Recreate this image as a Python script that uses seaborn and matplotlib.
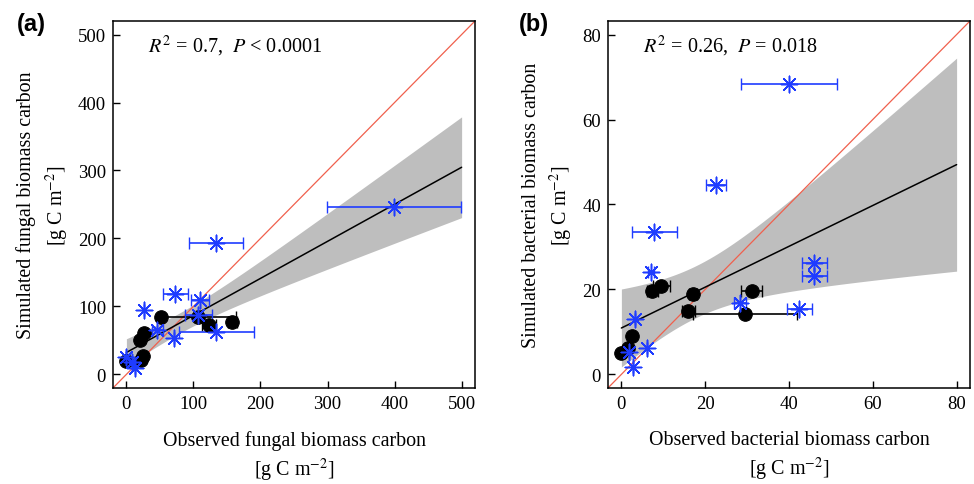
import numpy as np
import matplotlib
matplotlib.use("Agg")
import matplotlib.pyplot as plt
import seaborn as sns

# (a) fungal biomass carbon, g C m-2 (observed vs simulated)
fungal_obs_black = [0, 22, 25, 20, 27, 52, 107, 123, 158]
fungal_sim_black = [19, 21, 27, 50, 61, 84, 85, 72, 77]
fungal_err_black = [0, 0, 0, 0, 0, 0, 56, 10, 7]

fungal_obs_blue = [0, 8, 13, 27, 46, 71, 73, 110, 107, 134, 134, 399]
fungal_sim_blue = [26, 18, 9, 94, 65, 53, 119, 110, 87, 62, 193, 247]
fungal_err_blue = [0, 0, 0, 0, 8, 0, 19, 13, 20, 56, 40, 100]

# (b) bacterial biomass carbon, g C m-2
bact_obs_black = [0, 1.5, 2.5, 7.4, 9.5, 16, 17.1, 29.6, 31.1]
bact_sim_black = [5.1, 6.1, 9.1, 19.6, 20.8, 14.9, 19.0, 14.1, 19.6]
bact_err_black = [0, 0, 0, 1.3, 2, 1.5, 1, 12.4, 2.5]

bact_obs_blue = [1.9, 2.8, 3.3, 6, 7.1, 7.9, 22.6, 28.3, 40, 42.5, 46, 46]
bact_sim_blue = [5.3, 1.8, 13, 6.1, 24.1, 33.6, 44.7, 16.7, 68.3, 15.3, 26.3, 23.2]
bact_err_blue = [0, 0, 0, 0, 0.8, 5.3, 2.3, 1.4, 11.5, 2.9, 3, 3]

stats_a = r"$R^2$ = 0.7,  $P$ < 0.0001"
stats_b = r"$R^2$ = 0.26,  $P$ = 0.018"

BLUE = "#1f3cff"
RED = "#f0604d"
BAND = "#bebebe"

sns.set_style("ticks")
plt.rcParams["font.family"] = ["Liberation Serif", "DejaVu Serif"]
plt.rcParams["mathtext.fontset"] = "stix"
plt.rcParams["xtick.direction"] = "in"
plt.rcParams["ytick.direction"] = "in"
for key in ["text.color", "axes.labelcolor", "xtick.color", "ytick.color",
            "xtick.labelcolor", "ytick.labelcolor"]:
    plt.rcParams[key] = "black"


def conf_band(x, y, grid):
    # 95% confidence band of the OLS fit (t quantile for df = 19)
    x = np.asarray(x, float)
    y = np.asarray(y, float)
    n = len(x)
    slope, icpt = np.polyfit(x, y, 1)
    s = np.sqrt(np.sum((y - icpt - slope * x) ** 2) / (n - 2))
    se = s * np.sqrt(1 / n + (grid - x.mean()) ** 2 / np.sum((x - x.mean()) ** 2))
    fit = icpt + slope * grid
    return fit - 2.093 * se, fit + 2.093 * se


def panel(ax, obs_k, sim_k, err_k, obs_b, sim_b, err_b, ticks, stats, what):
    lim = (ticks[0] - 0.04 * ticks[-1], ticks[-1] * 1.04)
    x = np.r_[obs_k, obs_b]
    y = np.r_[sim_k, sim_b]
    grid = np.linspace(ticks[0], ticks[-1], 200)
    lo, hi = conf_band(x, y, grid)
    ax.fill_between(grid, lo, hi, color=BAND, lw=0, zorder=1)
    ax.plot(lim, lim, color=RED, lw=0.9, zorder=2)

    ax.set_xlim(ticks[0], ticks[-1])
    sns.regplot(x=x, y=y, ax=ax, scatter=False, ci=None, truncate=False,
                color="black", line_kws=dict(lw=1.1, zorder=3))

    ax.errorbar(obs_k, sim_k, xerr=err_k, fmt="none", ecolor="black",
                elinewidth=1.2, capsize=4, zorder=4)
    ax.errorbar(obs_b, sim_b, xerr=err_b, fmt="none", ecolor=BLUE,
                elinewidth=1.2, capsize=4, zorder=4)
    sns.scatterplot(x=obs_k, y=sim_k, ax=ax, color="black", marker="o",
                    s=95, edgecolor="black", zorder=5)
    sns.scatterplot(x=obs_b, y=sim_b, ax=ax, color=BLUE, marker=(8, 2, 0),
                    s=140, linewidth=1.1, zorder=6)

    ax.set_xlim(lim)
    ax.set_ylim(lim)
    ax.set_xticks(ticks)
    ax.set_yticks(ticks)
    ax.tick_params(labelsize=13.5, length=5, width=1, pad=5, color="black")
    for sp in ax.spines.values():
        sp.set_visible(True)
        sp.set_color("black")
        sp.set_linewidth(1.1)
    ax.set_xlabel(f"Observed {what} biomass carbon\n" + r"[g C m$^{-2}$]",
                  fontsize=14.4, linespacing=1.3, labelpad=13)
    ax.set_ylabel(f"Simulated {what} biomass carbon\n" + r"[g C m$^{-2}$]",
                  fontsize=14.4, linespacing=1.4, labelpad=5)
    ax.text(0.097, 0.932, stats, transform=ax.transAxes, fontsize=14.5, va="center")


fig = plt.figure(figsize=(9.74, 4.85), dpi=100)
ax_a = fig.add_axes([0.116, 0.198, 0.3717, 0.7567])
ax_b = fig.add_axes([0.6242, 0.198, 0.3717, 0.7567])

panel(ax_a, fungal_obs_black, fungal_sim_black, fungal_err_black,
      fungal_obs_blue, fungal_sim_blue, fungal_err_blue,
      [0, 100, 200, 300, 400, 500], stats_a, "fungal")
panel(ax_b, bact_obs_black, bact_sim_black, bact_err_black,
      bact_obs_blue, bact_sim_blue, bact_err_blue,
      [0, 20, 40, 60, 80], stats_b, "bacterial")

for tag, xpos in [("(a)", 0.017), ("(b)", 0.533)]:
    fig.text(xpos, 0.95, tag, fontsize=17, fontweight="bold", va="center",
             family=["Liberation Sans", "DejaVu Sans"])

fig.savefig("out.png", dpi=100)
